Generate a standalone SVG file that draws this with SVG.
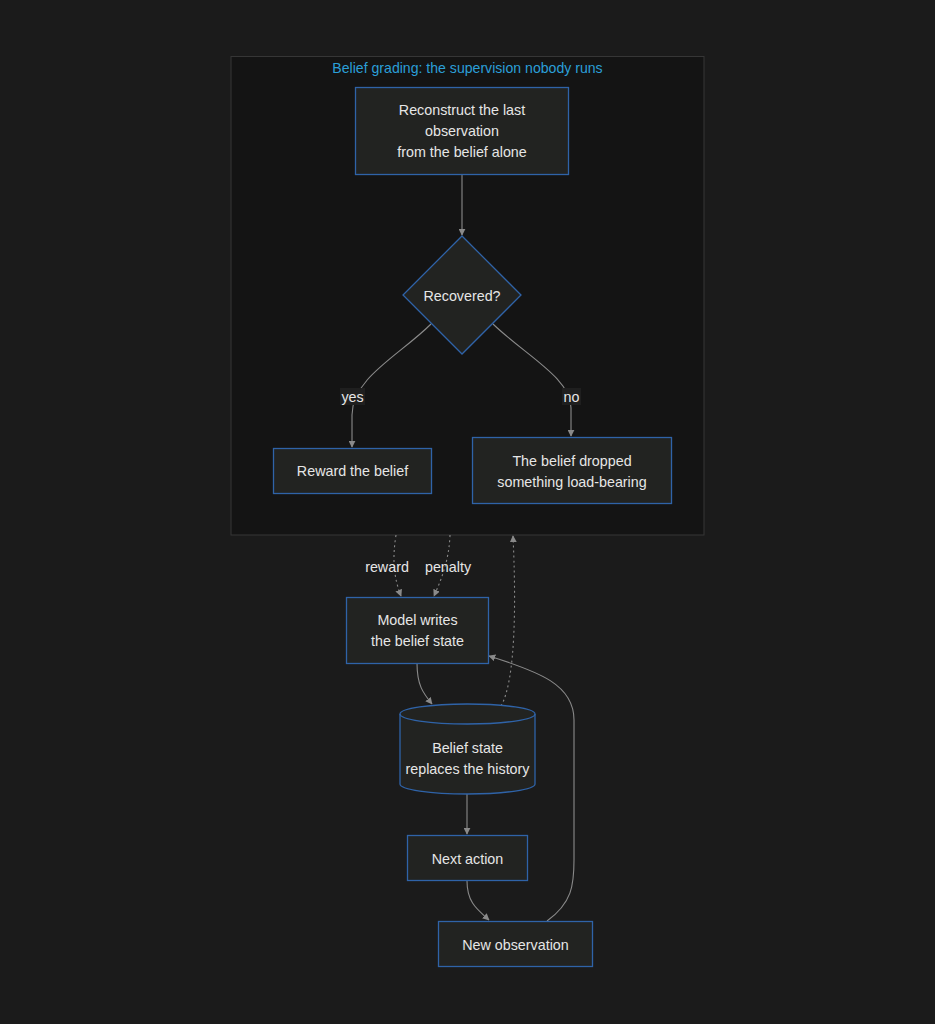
<svg xmlns="http://www.w3.org/2000/svg" width="935" height="1024" viewBox="0 0 935 1024">
<defs>
<style>
.node rect,.node polygon,.node path.shape{fill:#222321;stroke:#2f63a8;stroke-width:1.3}
.t{font-family:"Liberation Sans",Arial,sans-serif;font-size:14.3px;fill:#e6e6e6;text-anchor:middle;dominant-baseline:central}
.e{fill:none;stroke:#8a8a8a;stroke-width:1.1}
.d{stroke-dasharray:2 3}
.lbg{fill:#1f1f1f}
</style>
<marker id="ah" viewBox="0 0 10 10" refX="9" refY="5" markerWidth="7" markerHeight="7" orient="auto" markerUnits="userSpaceOnUse">
<path d="M0,0 L10,5 L0,10 z" fill="#8a8a8a"/>
</marker>
</defs>
<rect x="0" y="0" width="935" height="1024" fill="#1b1b1b"/>
<g id="cluster">
<rect x="231" y="56.5" width="473" height="478.5" fill="#141414" stroke="#363636" stroke-width="1"/>
<text x="467.5" y="68" class="t" style="fill:#2b9fd8;font-size:14.1px">Belief grading: the supervision nobody runs</text>
</g>
<g id="connectors">
<path class="e" d="M462,174 L462,235" marker-end="url(#ah)"/>
<path class="e" d="M431,324 C400,355 352,378 352,415 L352,447" marker-end="url(#ah)"/>
<path class="e" d="M493,324 C525,355 571,378 571,408 L571,436" marker-end="url(#ah)"/>
<path class="e d" d="M396,535 C392,560 394,578 401,596" marker-end="url(#ah)"/>
<path class="e d" d="M450,535 C449,560 442,578 434,596" marker-end="url(#ah)"/>
<path class="e" d="M417,663 C417,685 423,693 432,704" marker-end="url(#ah)"/>
<path class="e d" d="M501,706 C516,680 516,600 513,536" marker-end="url(#ah)"/>
<path class="e" d="M467,794 L467,834" marker-end="url(#ah)"/>
<path class="e" d="M467,881 C467,903 478,910 489,920" marker-end="url(#ah)"/>
<path class="e" d="M547,921 C572,903 574,885 574,860 L574,720 C574,685 540,672 489,656" marker-end="url(#ah)"/>
<rect class="lbg" x="340" y="388" width="25" height="17"/>
<text x="352.5" y="396.5" class="t">yes</text>
<rect class="lbg" x="562" y="388" width="19" height="17"/>
<text x="571.5" y="396.5" class="t">no</text>
<text x="387" y="566.5" class="t">reward</text>
<text x="448" y="566.5" class="t">penalty</text>
</g>
<g id="n-reconstruct" class="node">
<rect x="355.5" y="87.5" width="213" height="87"/>
<text x="462" y="110" class="t">Reconstruct the last</text>
<text x="462" y="131" class="t">observation</text>
<text x="462" y="152" class="t">from the belief alone</text>
</g>
<g id="n-recovered" class="node">
<polygon points="462,236 521,295 462,354 403,295"/>
<text x="462" y="296" class="t">Recovered?</text>
</g>
<g id="n-reward" class="node">
<rect x="273.5" y="448.5" width="158" height="45"/>
<text x="352.5" y="471" class="t">Reward the belief</text>
</g>
<g id="n-dropped" class="node">
<rect x="472.5" y="437.5" width="199" height="66"/>
<text x="572" y="461" class="t">The belief dropped</text>
<text x="572" y="482" class="t">something load-bearing</text>
</g>
<g id="n-model" class="node">
<rect x="346.5" y="597.5" width="142" height="66"/>
<text x="417.5" y="620" class="t">Model writes</text>
<text x="417.5" y="641" class="t">the belief state</text>
</g>
<g id="n-belief" class="node">
<path class="shape" d="M400,714 A67.5,10 0 0 1 535,714 L535,784 A67.5,10 0 0 1 400,784 Z"/>
<path d="M400,714 A67.5,10 0 0 0 535,714" fill="none" stroke="#2f63a8" stroke-width="1.3"/>
<text x="467.5" y="747.5" class="t">Belief state</text>
<text x="467.5" y="768.5" class="t">replaces the history</text>
</g>
<g id="n-next" class="node">
<rect x="407.5" y="835.5" width="120" height="45"/>
<text x="467.5" y="858.5" class="t">Next action</text>
</g>
<g id="n-newobs" class="node">
<rect x="438.5" y="921.5" width="154" height="45"/>
<text x="515.5" y="945" class="t">New observation</text>
</g>
</svg>
